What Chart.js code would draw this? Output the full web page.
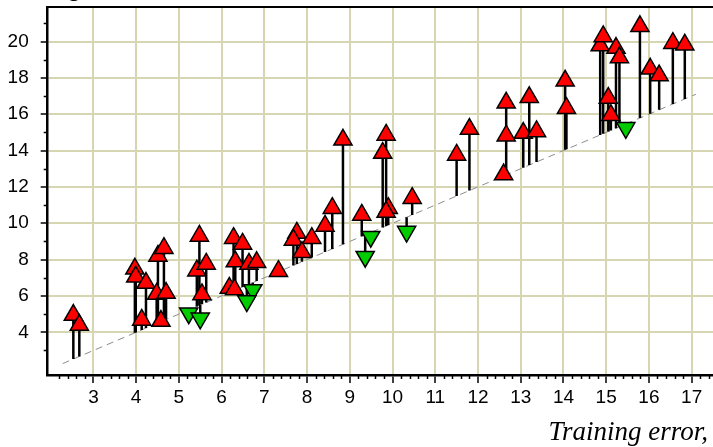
<!DOCTYPE html>
<html>
<head>
<meta charset="utf-8">
<script src="https://cdn.jsdelivr.net/npm/chart.js@4.4.1/dist/chart.umd.min.js"></script>
<style>
    html, body { margin: 0; padding: 0; background: #fff; overflow: hidden; }
    #contenedor { position: relative; width: 713px; height: 447px; overflow: hidden; }
    .titulo-eje { position: absolute; font: italic 27px "Liberation Serif", "Times New Roman", serif; line-height: 27px; color: #000; white-space: nowrap; }
    #tituloY { left: 6px; top: -27px; }
    #tituloX { right: 5px; top: 418px; }
</style>
</head>
<body>
<div id="contenedor">
    <canvas id="miGrafica" width="713" height="447"></canvas>
    <div id="tituloY" class="titulo-eje">Testing error,</div>
    <div id="tituloX" class="titulo-eje">Training error,</div>
</div>
<script>
// Error de entrenamiento (eje X) y error de prueba (eje Y) de cada modelo
const errorEntrenamiento = [
    2.53, 2.67, 3.97, 3.99, 4.23, 4.13, 4.48, 4.51, 4.65, 4.70, 4.58,
    5.48, 5.42, 5.64, 5.54, 5.23, 5.50,
    6.28, 6.49, 6.32, 6.64, 6.82, 6.18, 6.30, 6.73, 6.59, 7.33,
    7.76, 7.68, 8.11, 7.88, 8.42, 8.59, 8.84,
    9.28, 9.85, 9.77, 9.90, 9.85, 9.49, 9.36, 10.46, 10.33,
    11.50, 11.80, 12.66, 12.66, 12.60, 13.06, 13.20, 13.37, 14.04, 14.07,
    14.86, 14.93, 15.23, 15.31, 15.05, 15.11, 15.46,
    15.79, 16.03, 16.24, 16.56, 16.84
];
const errorPrueba = [
    4.95, 4.40, 7.49, 7.05, 6.71, 4.68, 6.11, 8.20, 8.63, 6.16, 4.62,
    9.30, 7.39, 7.76, 6.08, 5.05, 4.77,
    9.18, 8.86, 7.89, 7.76, 7.85, 6.44, 6.36, 6.33, 5.72, 7.36,
    9.47, 9.08, 9.18, 8.41, 9.85, 10.83, 14.59,
    10.46, 14.86, 13.86, 10.83, 10.62, 9.26, 8.16, 11.38, 9.54,
    13.76, 15.18, 16.63, 14.82, 12.68, 14.96, 16.93, 15.05, 17.84, 16.33,
    19.78, 20.28, 19.64, 19.12, 16.89, 15.95, 15.25,
    20.84, 18.50, 18.13, 19.91, 19.82
];

// Etiquetas de los ejes
const ticksX = [3, 4, 5, 6, 7, 8, 9, 10, 11, 12, 13, 14, 15, 16, 17];
const ticksY = [4, 6, 8, 10, 12, 14, 16, 18, 20];

// Extremos de la diagonal prueba = entrenamiento
const lineaDiagonal = [2.28, 17.1];

const rangoX = [1.93, 17.5];
const rangoY = [1.65, 21.9];

const COLOR_REJILLA = '#d6d6b2';
const FUENTE_TICKS = { family: '"Liberation Sans", Arial, sans-serif', size: 19 };

// Puntos y varillas (desde la diagonal hasta el punto)
const puntos = errorEntrenamiento.map((x, i) => ({ x, y: errorPrueba[i] }));
const varillas = [];
errorEntrenamiento.forEach((x, i) => {
    varillas.push({ x, y: x }, { x, y: errorPrueba[i] }, { x, y: null });
});

// Marcas menores: cada 0.2 en X y en los impares en Y
const marcasMenores = {
    id: 'marcasMenores',
    afterDraw(chart) {
        const { ctx, chartArea, scales } = chart;
        const ejeX = scales.x, ejeY = scales.y;
        ctx.save();
        ctx.strokeStyle = '#000';
        ctx.lineWidth = 1.5;
        ctx.beginPath();
        for (let k = Math.ceil(ejeX.min * 5); k <= Math.floor(ejeX.max * 5); k++) {
            if (k % 5 === 0) continue;
            const px = Math.round(ejeX.getPixelForValue(k / 5)) + 0.5;
            ctx.moveTo(px, chartArea.bottom);
            ctx.lineTo(px, chartArea.bottom + 4);
        }
        for (let v = Math.ceil(ejeY.min); v <= ejeY.max; v++) {
            if (v % 2 === 0) continue;
            const py = Math.round(ejeY.getPixelForValue(v)) + 0.5;
            ctx.moveTo(chartArea.left - 4, py);
            ctx.lineTo(chartArea.left, py);
        }
        ctx.stroke();
        ctx.restore();
    }
};

const esMejor = ctx => ctx.raw && ctx.raw.y < ctx.raw.x;

// Sin márgenes extra por las etiquetas: el área de dibujo llega a los bordes
const sinRelleno = s => {
    s.paddingTop = 0;
    s.paddingBottom = 0;
    s.paddingLeft = 0;
    s.paddingRight = 0;
};

new Chart(document.getElementById('miGrafica').getContext('2d'), {
    type: 'scatter',
    data: {
        datasets: [
            {
                label: 'Modelos',
                data: puntos,
                order: 0,
                pointStyle: 'triangle',
                pointRadius: 10.5,
                pointHoverRadius: 10.5,
                pointBorderWidth: 1.5,
                pointBorderColor: '#000',
                pointBackgroundColor: ctx => esMejor(ctx) ? '#00cc00' : '#ff0000',
                pointRotation: ctx => esMejor(ctx) ? 180 : 0
            },
            {
                label: 'Varillas',
                data: varillas,
                order: 1,
                showLine: true,
                spanGaps: false,
                borderColor: '#000',
                borderWidth: 2.5,
                pointRadius: 0
            },
            {
                label: 'Diagonal',
                data: lineaDiagonal.map(v => ({ x: v, y: v })),
                order: 2,
                showLine: true,
                borderColor: '#8c8c8c',
                borderWidth: 1,
                borderDash: [7, 5],
                pointRadius: 0
            }
        ]
    },
    options: {
        responsive: false,
        animation: false,
        events: [],
        layout: { padding: 0, autoPadding: false },
        plugins: { legend: { display: false }, tooltip: { enabled: false } },
        scales: {
            x: {
                type: 'linear',
                position: 'bottom',
                min: rangoX[0],
                max: rangoX[1],
                afterBuildTicks: s => { s.ticks = ticksX.map(v => ({ value: v })); },
                afterFit: s => { s.height = 72; sinRelleno(s); },
                grid: { color: COLOR_REJILLA, lineWidth: 2, tickColor: '#000', tickWidth: 1.5, tickLength: 8 },
                border: { color: '#000', width: 2.5 },
                ticks: { color: '#000', font: FUENTE_TICKS, padding: 3, maxRotation: 0, autoSkip: false }
            },
            x2: {
                type: 'linear',
                position: 'top',
                display: true,
                min: rangoX[0],
                max: rangoX[1],
                afterBuildTicks: s => { s.ticks = []; },
                afterFit: s => { s.height = 7; sinRelleno(s); },
                grid: { display: false },
                border: { color: '#000', width: 2 },
                ticks: { display: false }
            },
            y: {
                type: 'linear',
                position: 'left',
                min: rangoY[0],
                max: rangoY[1],
                afterBuildTicks: s => { s.ticks = ticksY.map(v => ({ value: v })); },
                afterFit: s => { s.width = 47.7; sinRelleno(s); },
                grid: { color: COLOR_REJILLA, lineWidth: 2, tickColor: '#000', tickWidth: 1.5, tickLength: 7 },
                border: { color: '#000', width: 2.5 },
                ticks: { color: '#000', font: FUENTE_TICKS, padding: 12 }
            }
        }
    },
    plugins: [marcasMenores]
});
</script>
</body>
</html>
